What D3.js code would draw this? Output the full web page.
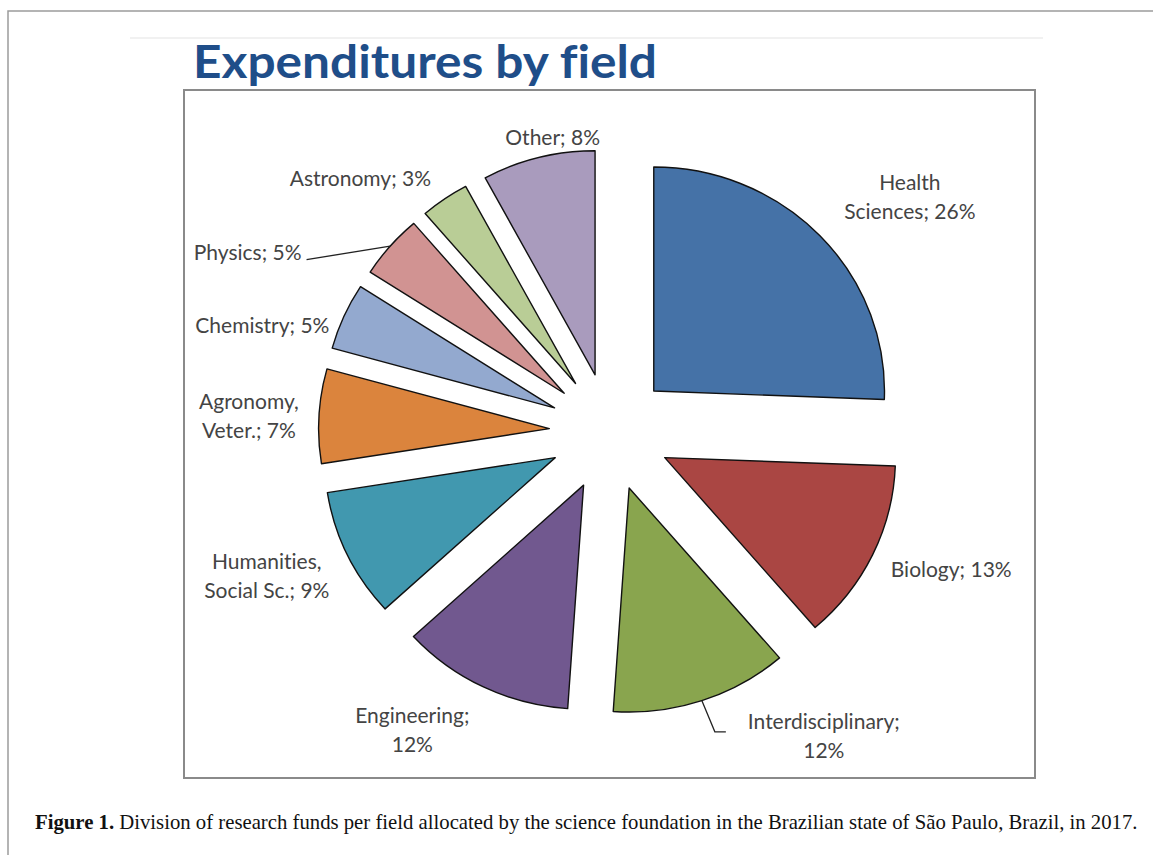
<!DOCTYPE html>
<html>
<head>
<meta charset="utf-8">
<script src="https://cdn.jsdelivr.net/npm/d3@7"></script>
<style>
  body { margin: 0; background: #fff; }
  svg { display: block; }
  text { font-variant-ligatures: none; }
</style>
</head>
<body>
<div id="chart"></div>
<script>
// data (shares in %, order is clockwise from 12 o'clock)
const fields = ["Health|Sciences", "Biology", "Interdisciplinary", "Engineering", "Humanities,|Social Sc.",
    "Agronomy,|Veter.", "Chemistry", "Physics", "Astronomy", "Other"]
const shares = [25.6, 13.1, 12.4, 12.1, 9.3, 6.8, 4.8, 4.6, 3.4, 7.9]
const pctOnNewLine = ["Interdisciplinary", "Engineering"]
const colors = ["#4572A7", "#AA4643", "#89A54E", "#71588F", "#4198AF",
    "#DB843D", "#93A9CF", "#D19392", "#B9CD96", "#A99BBD"]
const titleText = "Expenditures by field"
const captionBold = "Figure 1."
const captionRest = " Division of research funds per field allocated by the science foundation in the Brazilian state of São Paulo, Brazil, in 2017."

const width = 1153
const height = 855

// pie layout
const cx = 610, cy = 432, radius = 224, explode = 59, sx = 1.03
const labelRadius = 357
const labelNudge = [[35, 12], [10, -19], [98, -36], [-38, -25], [-12, -12],
    [6, 3], [-12, 38], [-85, 54], [-41, 40], [33, 51]]

const svg = d3.select("#chart")
    .append("svg")
    .attr("width", width)
    .attr("height", height)

// page frame (only top / left visible)
svg.append("path")
    .attr("d", `M8,${height} V11 H${width}`)
    .attr("fill", "none")
    .attr("stroke", "#9c9c9c")
    .attr("stroke-width", 1.5)

// faint slide rule
svg.append("line")
    .attr("x1", 130).attr("x2", 1043)
    .attr("y1", 38).attr("y2", 38)
    .attr("stroke", "#ececec")
    .attr("stroke-width", 1.5)

svg.append("text")
    .attr("x", 193)
    .attr("y", 78)
    .text(titleText)
    .attr("font-family", "Lato, 'Open Sans', sans-serif")
    .attr("font-weight", 700)
    .attr("font-size", 45)
    .attr("fill", "#1F4E89")
    .attr("textLength", 464)
    .attr("lengthAdjust", "spacingAndGlyphs")

// chart frame
svg.append("rect")
    .attr("x", 184).attr("y", 90)
    .attr("width", 851).attr("height", 688)
    .attr("fill", "none")
    .attr("stroke", "#8a8a8a")
    .attr("stroke-width", 2)

const pie = d3.pie().sort(null).value(d => d)
const arcs = pie(shares)
const arc = d3.arc().innerRadius(0).outerRadius(radius)
const mid = d => (d.startAngle + d.endAngle) / 2
const polar = (a, r) => [cx + sx * r * Math.sin(a), cy - r * Math.cos(a)]

svg.append("g")
    .attr("transform", `translate(${cx},${cy}) scale(${sx},1)`)
    .selectAll("path")
    .data(arcs)
    .join("path")
    .attr("transform", d => `translate(${explode * Math.sin(mid(d))},${-explode * Math.cos(mid(d))})`)
    .attr("d", arc)
    .attr("fill", (d, i) => colors[i])
    .attr("stroke", "#111")
    .attr("stroke-width", 1.4)
    .attr("stroke-linejoin", "round")
    .attr("vector-effect", "non-scaling-stroke")

// labels
const lineGap = 29
const labels = svg.append("g")
    .selectAll("text")
    .data(arcs)
    .join("text")
    .attr("font-family", "Lato, 'Open Sans', sans-serif")
    .attr("font-size", 21)
    .attr("fill", "#444")
    .attr("text-anchor", "middle")
    .each(function (d, i) {
        const name = fields[i]
        const sep = pctOnNewLine.includes(name) ? ";|" : "; "
        const lines = (name + sep + Math.round(shares[i]) + "%").split("|")
        const p = polar(mid(d), labelRadius)
        const x = p[0] + labelNudge[i][0]
        const y = p[1] + labelNudge[i][1]
        d3.select(this).selectAll("tspan")
            .data(lines)
            .join("tspan")
            .attr("x", x)
            .attr("y", (l, j) => y + (j - (lines.length - 1) / 2) * lineGap)
            .attr("dominant-baseline", "central")
            .text(l => l)
    })

// leader lines for the two moved labels
const labelNodes = labels.nodes()
const leader = []
{
    const i = fields.indexOf("Physics")
    const b = labelNodes[i].getBBox()
    leader.push([polar(mid(arcs[i]), explode + radius), [b.x + b.width + 5, b.y + b.height / 2 + 8]])
}
{
    const i = fields.indexOf("Interdisciplinary")
    const b = labelNodes[i].getBBox()
    const ly = b.y + b.height / 2 - 3
    leader.push([polar(mid(arcs[i]), explode + radius), [b.x - 33, ly], [b.x - 22, ly]])
}
svg.append("g")
    .selectAll("path")
    .data(leader)
    .join("path")
    .attr("d", d3.line())
    .attr("fill", "none")
    .attr("stroke", "#222")
    .attr("stroke-width", 1.3)

// caption
const capG = svg.append("g").attr("transform", "translate(35,829)")
const cap = capG.append("text")
    .attr("font-family", "'Liberation Serif', 'DejaVu Serif', serif")
    .attr("font-size", 21)
    .attr("fill", "#111")
cap.append("tspan").attr("font-weight", 700).text(captionBold)
cap.append("tspan").text(captionRest)
const capLen = cap.node().getComputedTextLength()
cap.attr("transform", `scale(${1103 / capLen},1)`)
</script>
</body>
</html>
